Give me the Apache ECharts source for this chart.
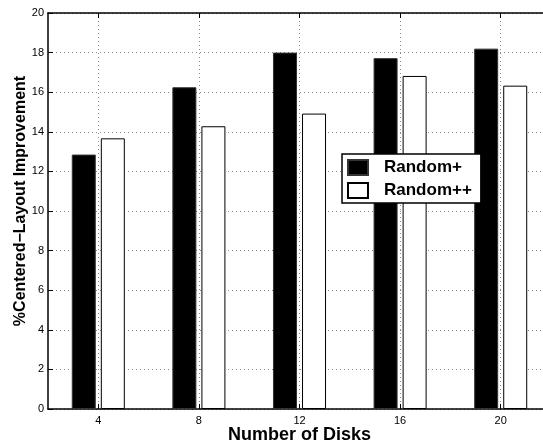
<!DOCTYPE html>
<html>
<head>
<meta charset="utf-8">
<script src="https://cdn.jsdelivr.net/npm/echarts@6/dist/echarts.min.js"></script>
<style>
html,body{margin:0;padding:0;background:#fff;}
#chart{width:543px;height:447px;}
</style>
</head>
<body>
<div id="chart"></div>
<script>
const categories = ['4', '8', '12', '16', '20'];
const randomPlus = [12.85, 16.25, 18.0, 17.72, 18.2];
const randomPlusPlus = [13.67, 14.28, 14.92, 16.82, 16.33];
const yTicks = { min: 0, max: 20, interval: 2 };

const FONT = '"Liberation Sans", Arial, Helvetica, sans-serif';
const dotted = { color: '#8a8a8a', width: 1, type: [1, 3] };

const chart = echarts.init(document.getElementById('chart'), null, { renderer: 'canvas' });
chart.setOption({
  animation: false,
  backgroundColor: '#fff',
  textStyle: { fontFamily: FONT },
  grid: { left: 48, top: 13, width: 503, height: 396, containLabel: false, outerBoundsMode: 'none' },
  legend: {
    orient: 'vertical',
    left: 342,
    top: 154,
    padding: [5, 9, 4, 5],
    itemGap: 6,
    itemWidth: 20,
    itemHeight: 15,
    backgroundColor: '#fff',
    borderColor: '#000',
    borderWidth: 1.5,
    borderRadius: 0,
    textStyle: { fontFamily: FONT, fontWeight: 'bold', fontSize: 17, color: '#000', padding: [0, 0, 0, 11] },
    data: [
      { name: 'Random+', icon: 'rect' },
      { name: 'Random++', icon: 'rect' }
    ]
  },
  xAxis: [
    {
      type: 'category',
      data: categories,
      position: 'bottom',
      name: 'Number of Disks',
      nameLocation: 'middle',
      nameGap: 17,
      nameMoveOverlap: false,
      nameTextStyle: { fontFamily: FONT, fontWeight: 'bold', fontSize: 18, color: '#000' },
      axisLine: { show: true, lineStyle: { color: '#000', width: 1.5 } },
      axisTick: { show: true, inside: true, alignWithLabel: true, length: 5, lineStyle: { color: '#000' } },
      axisLabel: { interval: 0, fontSize: 11, color: '#000', margin: 6, fontFamily: FONT },
      splitLine: { show: true, alignWithLabel: true, interval: 0, lineStyle: dotted }
    },
    {
      type: 'category',
      data: categories,
      position: 'top',
      axisLine: { show: true, lineStyle: { color: '#000', width: 1.5 } },
      axisTick: { show: true, inside: true, alignWithLabel: true, length: 5, lineStyle: { color: '#000' } },
      axisLabel: { show: false },
      splitLine: { show: false }
    }
  ],
  yAxis: {
    type: 'value',
    min: yTicks.min,
    max: yTicks.max,
    interval: yTicks.interval,
    name: '%Centered\u2212Layout Improvement',
    nameLocation: 'middle',
    nameGap: 19,
    nameMoveOverlap: false,
    nameTextStyle: { fontFamily: FONT, fontWeight: 'bold', fontSize: 16, color: '#000', padding: [0, 0, 0, 20] },
    axisLine: { show: true, lineStyle: { color: '#000', width: 1.5 } },
    axisTick: { show: true, inside: true, length: 5, lineStyle: { color: '#000' } },
    axisLabel: { fontSize: 11, color: '#000', margin: 4, fontFamily: FONT },
    splitLine: { show: true, lineStyle: dotted }
  },
  series: [
    {
      name: 'Random+',
      type: 'bar',
      xAxisIndex: 0,
      data: randomPlus,
      barWidth: 24,
      barGap: '21%',
      itemStyle: { color: '#000', borderColor: '#333', borderWidth: 1 }
    },
    {
      name: 'Random++',
      type: 'bar',
      xAxisIndex: 0,
      data: randomPlusPlus,
      barWidth: 24,
      barGap: '21%',
      itemStyle: { color: '#fff', borderColor: '#000', borderWidth: 1 }
    }
  ]
});
</script>
</body>
</html>
